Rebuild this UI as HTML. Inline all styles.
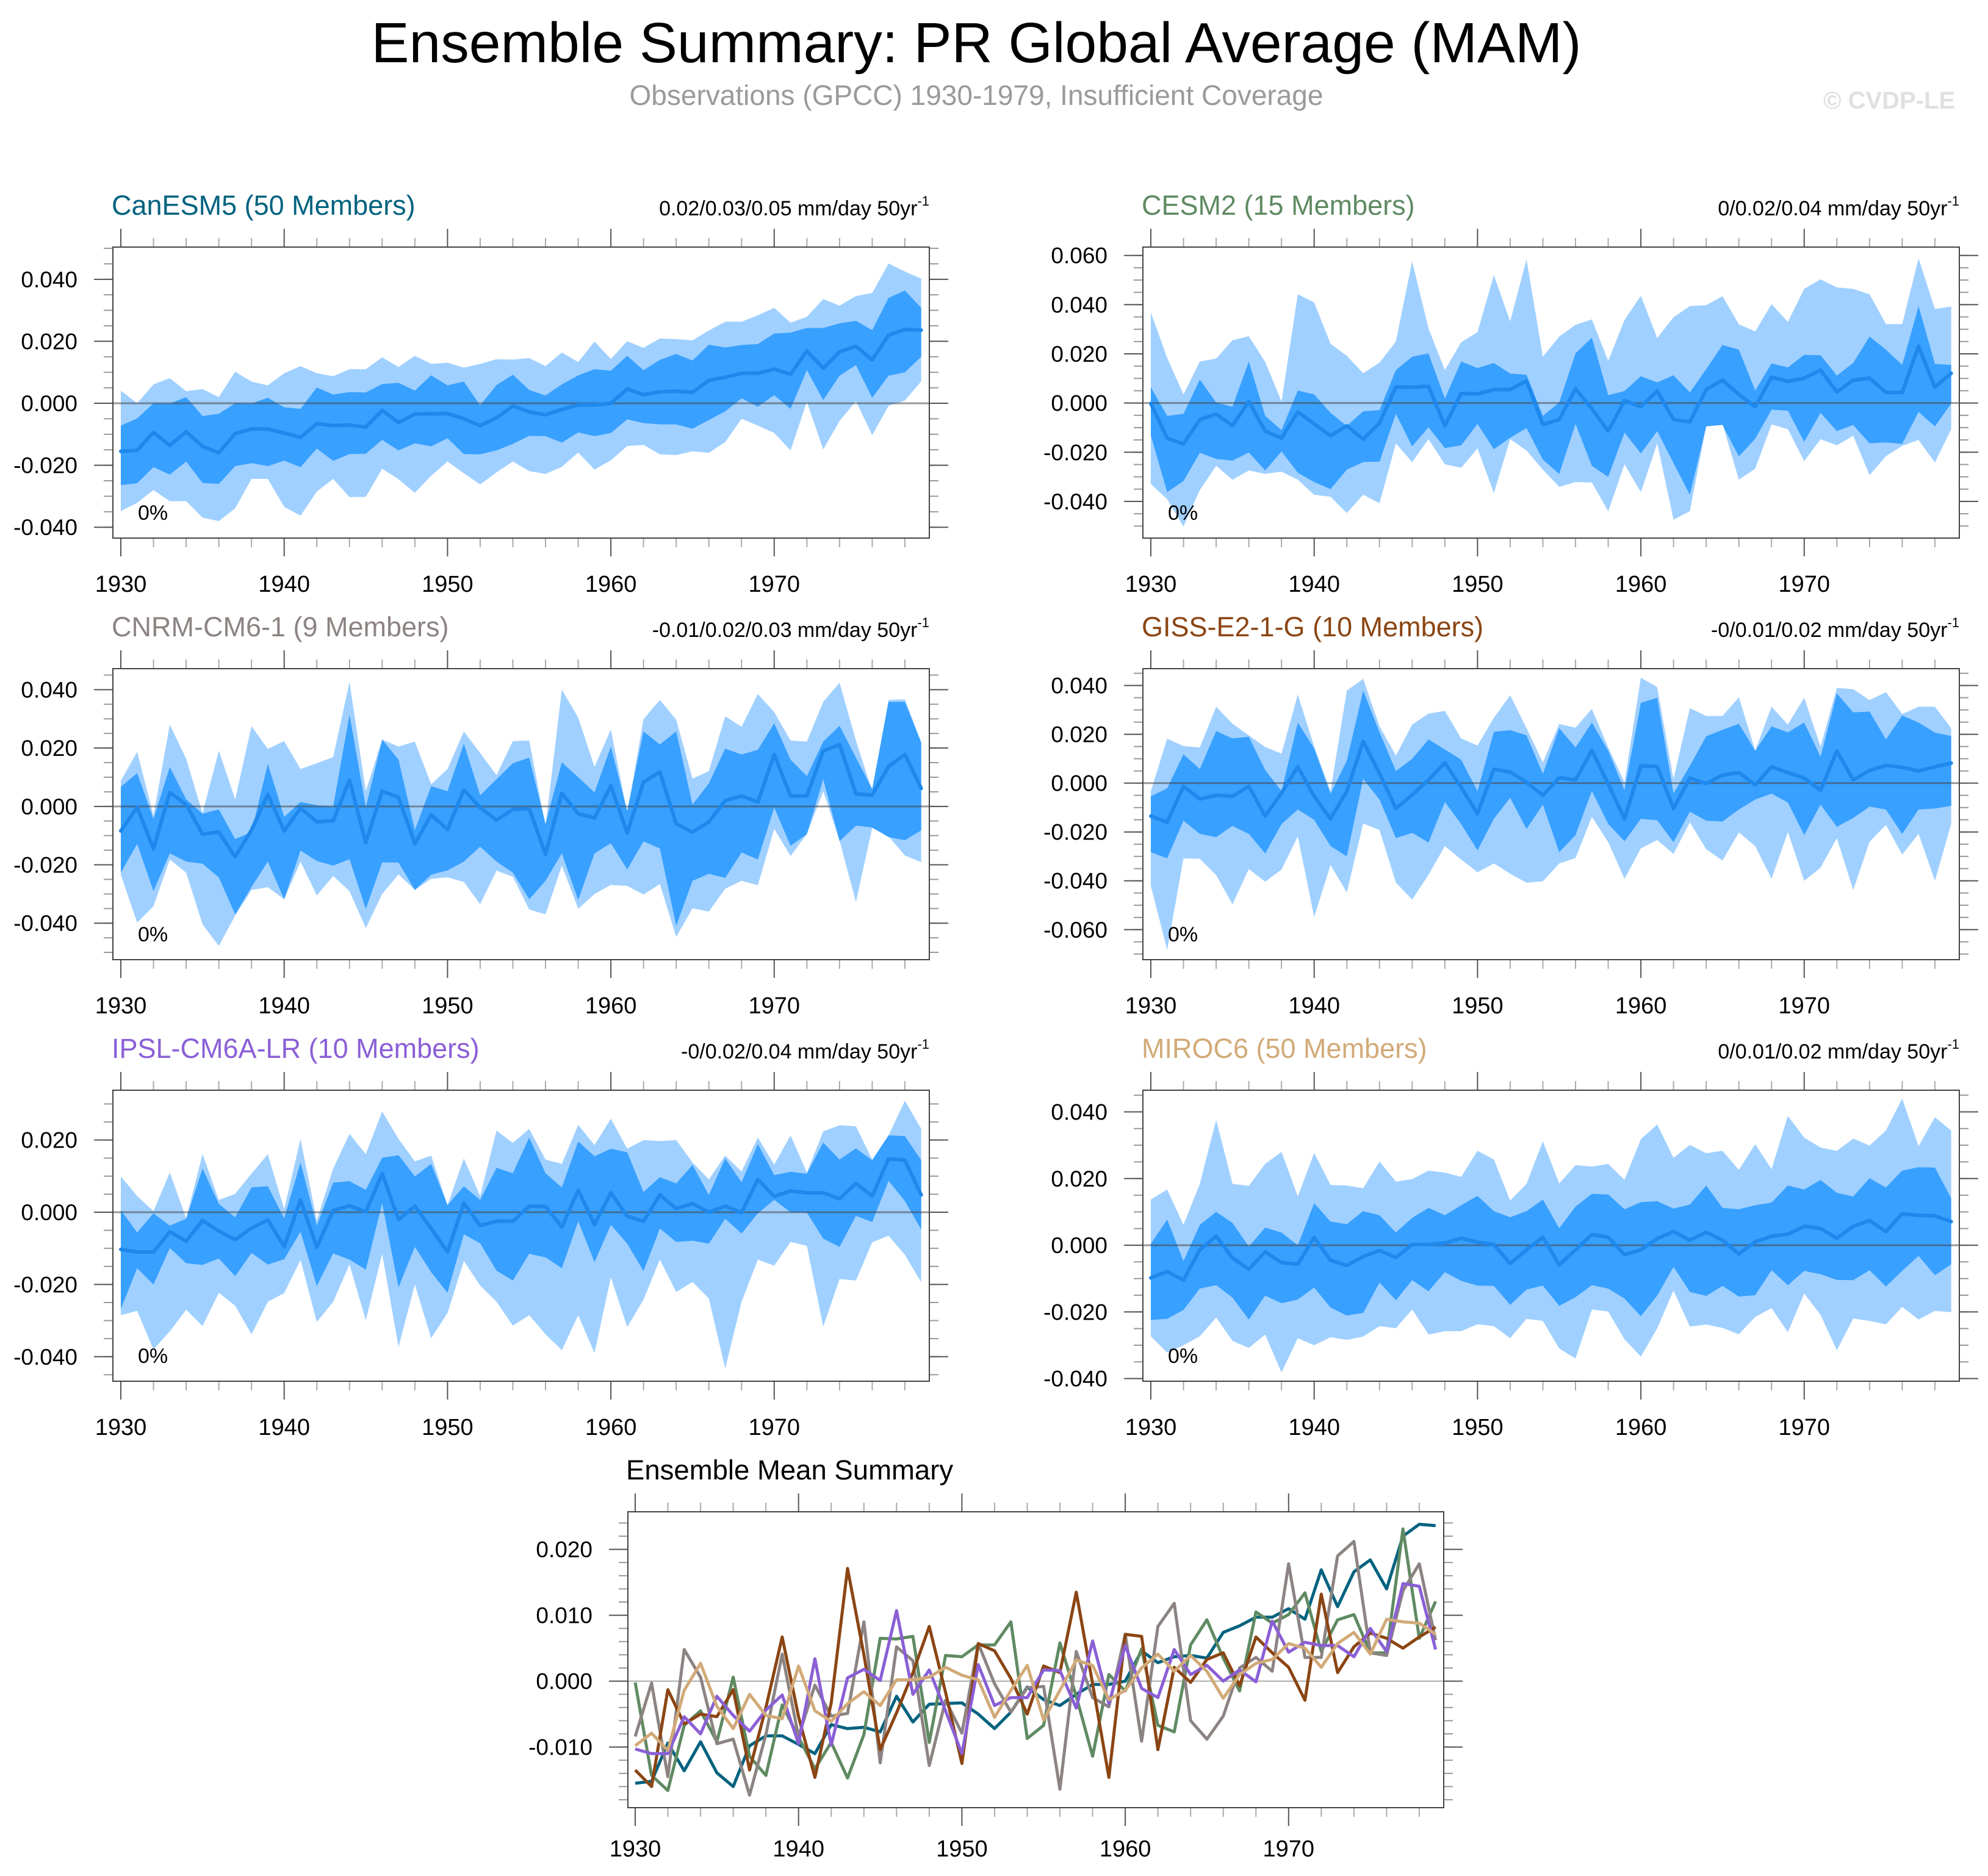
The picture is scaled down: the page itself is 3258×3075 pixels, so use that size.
<!DOCTYPE html>
<html><head><meta charset="utf-8"><title>Ensemble Summary: PR Global Average (MAM)</title>
<style>
html,body{margin:0;padding:0;background:#fff;}
svg{display:block;font-family:"Liberation Sans",Arial,sans-serif;}
</style></head>
<body>
<svg id="chart" width="3258" height="3075" viewBox="0 0 3258 3075" xmlns="http://www.w3.org/2000/svg">
<rect x="0" y="0" width="3258" height="3075" fill="#fff"/>
<text x="1600" y="102" font-size="93" text-anchor="middle" fill="#000">Ensemble Summary: PR Global Average (MAM)</text>
<text x="1600" y="172" font-size="46" text-anchor="middle" fill="#9a9a9a">Observations (GPCC) 1930-1979, Insufficient Coverage</text>
<text x="2988" y="178" font-size="40" font-weight="bold" fill="#e0e0e0">© CVDP-LE</text>
</svg>
<script>
// ===== data (values in units of 0.001 mm/day) =====
const years = [];
for (let y = 1930; y <= 1979; y++) years.push(y);

const canMean = [-15.5,-15.2,-9.4,-13.6,-9.2,-13.9,-16,-9.8,-8.3,-8.3,-9.6,-11,-6.6,-7.2,-7,-7.7,-2.3,-6.2,-3.5,-3.4,-3.3,-5,-7.2,-4.7,-0.9,-2.8,-3.7,-2,-0.5,-0.5,0,4.6,2.8,3.7,3.9,3.5,7.4,8.4,9.7,9.7,11,9.4,16.9,11.3,16.6,18.4,14,22,23.8,23.6];
const canDarkHi = [-7.2,-4.9,0,-0.1,2,-4.1,-3.4,0,-0.1,1.8,-1.3,-1.8,5.1,2.8,3.6,3.5,6.2,6.6,4.1,9,5.8,7,-0.7,5.9,9.2,4.3,2.5,6.1,9,11,10.5,15.3,10.7,14,15.9,13.8,18.9,18,18.8,19.1,22.5,22.8,24.3,24.3,25.8,26.6,23.6,34,36.4,30.8];
const canLightHi = [4.1,0,6.1,8.1,3.9,4.6,2,10.2,7,5.8,9.7,12,9.7,8.7,11,11,14.8,11.7,15.3,12.7,13.1,11.5,12.7,14.2,14.1,14.6,12,16.4,13.3,19.9,14.3,20,17.9,20.9,20.7,20.3,23.5,26.3,26.3,28.4,30.8,26,27.9,33.6,31.5,34.6,35.6,45.1,42.5,40.2];
const canDarkLo = [-26.4,-25.8,-20.6,-23,-18.8,-25.7,-26,-20.3,-19.3,-20.3,-18.5,-20.6,-14.6,-18.6,-16.4,-16.3,-11.8,-15.2,-12.9,-13.9,-11.3,-16.4,-16.5,-15.2,-13.1,-10.5,-10.6,-12.7,-9.4,-10.6,-9.6,-5.2,-6.4,-6.8,-6.8,-8.2,-5.4,-2.6,1.6,-1.1,2.6,-1.8,10.7,1,8.9,12.3,1.8,8.9,10,15];
const canLightLo = [-34.8,-32.1,-28,-31.6,-31.6,-36.9,-38,-33.9,-24.4,-24.4,-33.4,-36.3,-28.5,-24.4,-30.3,-30.2,-21.1,-24.5,-28.9,-23.4,-18.8,-22.6,-26.2,-22.3,-18.8,-21.9,-22.8,-20.5,-15.9,-21.4,-18.4,-13.8,-13.4,-16.5,-16.7,-15.5,-16,-12.5,-5,-7.2,-9.6,-15.2,0.5,-14.9,-5.7,0.7,-10.3,-0.8,0.9,7.1];

const cesMean = [-0.2,-14.3,-16.6,-6.7,-4.5,-9.2,0.6,-11.4,-14.3,-3.6,-8.5,-13.3,-9.3,-14.7,-8.1,6.5,6.4,6.8,-9.3,3.9,3.7,5.5,5.5,9,-8.7,-6.7,5.8,-2.3,-11.4,1,-1.5,4.9,-6.7,-7.7,5.5,9.3,3.5,-1.5,10.5,8.8,10.1,13.4,4.5,9.3,10.1,4.3,4.3,23.1,6.5,12.1];
const cesDarkHi = [6.4,-5.2,-4.4,9.5,0.2,-1.5,16.9,-5.2,-11,5.1,3.5,-4,-9.3,-3.4,-2.9,13.4,18.8,20.2,1.8,16.9,14.2,16.3,12,11.5,-5.2,0.2,20.2,26.6,3.2,4.9,10.9,8.4,11.3,4.3,13.8,23.6,21.7,5.1,16.1,14.5,19.6,19.4,11.2,16.3,27,21.7,15.5,39.4,15.9,15.5];
const cesLightHi = [36.9,18.3,3.5,16.9,18.1,25.5,27.2,16.7,0.6,44.2,40.9,24.1,19.2,12.1,16.4,25,57.6,30.3,13.4,24.7,28.8,52,33.2,58.4,18.8,27,31.8,34,17.1,33.8,43.6,26.4,34.9,39.4,39.8,43.4,32,29.1,40.2,33,46.4,50.3,47,46.4,44.2,32.1,32.1,58.8,38.2,39.3];
const cesDarkLo = [-13.1,-36.2,-31.7,-20.2,-22.7,-23.4,-20.1,-27.4,-19.7,-28.3,-32.1,-35,-27.1,-24,-23.8,-4.4,-17.6,-9.8,-18.3,-17.2,-8.5,-18.8,-14.1,-10.2,-23,-28.8,-8.5,-25.5,-30,-12,-20.5,-11.4,-24.4,-37.3,-9.5,-8.9,-21.7,-14.5,-2.7,-3.1,-15.8,-4,-11.4,-8.9,-16.4,-16,-16.6,-3.6,-9.5,-0.2];
const cesLightLo = [-32.9,-39.1,-50.2,-35.4,-25.5,-31.2,-27.4,-28.8,-27.9,-31.2,-37.3,-38.1,-44.7,-37.3,-40.7,-16.4,-24,-14.7,-24.9,-26.3,-18.4,-36.6,-14.7,-19.3,-27.1,-34.1,-32.1,-32.3,-44,-24.9,-36.2,-16.4,-47.4,-44,-9.3,-8.5,-31.2,-26.7,-8.7,-10.6,-23.6,-14.7,-17.2,-13.3,-29.3,-21.6,-17.4,-15,-24.2,-10.6];

const cnrMean = [-8.4,-0.3,-14.5,4.8,0.6,-9.5,-8.8,-17.3,-8.1,4.1,-8.4,-0.6,-5.3,-4.9,9,-12.4,5.2,3.1,-12.8,-2.9,-7.9,5.7,-0.4,-4.7,-1,-0.8,-16.4,4.5,-2.5,-3.9,7.1,-9.1,8.3,11.8,-6,-8.8,-5.3,2,3.6,1.5,17.8,3.6,3.6,19,21.2,4.3,3.9,13.7,17.8,6.2];
const cnrDarkHi = [6.7,11.4,-4.3,13.5,2.4,-2.5,-1,-11.2,-8.8,14.6,-3.6,1.5,0.4,-0.1,31.5,-0.3,22.9,16,-8.1,6.9,5.2,21.5,3.8,9.3,14.8,16.7,-6,15.1,10,4.8,20.5,-1.5,25.7,21.2,25.7,0.6,7.9,19.8,17.8,19.4,28.5,16,10.4,22.2,27.6,16.7,6,35.8,35.8,21.9];
const cnrLightHi = [8.8,18.7,-3.1,28,16.3,-2.4,19.1,2.4,27.5,19.7,22.4,12.8,14.8,16.9,42.6,5.2,22.9,20.5,22.2,7.6,12.8,25.7,18.3,10.7,22.4,22.6,-6.7,40,30.4,13.5,26.4,-2.4,29.9,36.5,29.7,9.5,12.1,30.9,27.3,38.5,32.3,22.6,22.2,35.8,42.4,22.6,5.2,36.5,36.7,21.9];
const cnrDarkLo = [-22.7,-12.8,-29,-16.1,-18.9,-19.6,-24.3,-37,-27.6,-18.9,-31.8,-15.1,-18.7,-20.3,-18.1,-35.1,-19.2,-19.2,-28.6,-23.4,-21.9,-18.9,-13.8,-18.9,-22.7,-31.8,-25.5,-16.1,-32.1,-16.1,-12.6,-21.6,-12,-14.4,-40.9,-25.5,-23.1,-24.5,-15.8,-18.2,-0.4,-13.5,-9.5,9.3,-11.9,-6.6,-7.2,-10.5,-11.6,-8.2];
const cnrLightLo = [-23.4,-39.8,-34.2,-18.2,-22.7,-40.4,-47.8,-37.4,-28.6,-27.7,-31.8,-18.9,-30.5,-23.8,-29,-41.7,-30,-23.3,-28.6,-24.8,-24.3,-25.9,-33.5,-22,-24.1,-35.3,-37,-20.3,-35.1,-30,-26.9,-27.2,-30.2,-26.6,-44.7,-34.9,-36,-28.2,-25.5,-27,-7.7,-17,-9.5,5.2,-11.7,-32.8,-7.4,-10.3,-16.8,-19.1];

const gisMean = [-13.5,-16,-1.3,-6.5,-5,-5.4,-1.3,-13.5,-4,6.7,-5.4,-14.6,-3.3,17.1,4,-10.4,-4.8,1.3,8.3,-1.7,-12.5,5.7,4.6,0.4,-5,2.3,1.3,13.5,-0.4,-14.6,7.1,6.8,-10.4,2.1,-0.2,3.3,4.3,-0.7,6.7,4.3,2.1,-2.9,13.2,1.3,5.2,7.3,6.5,5,6.7,8.2];
const gisDarkHi = [-5.4,-2.1,11.8,5.8,21.3,18.3,19,5.4,-3.3,24.8,14.2,-4.3,9.2,37.9,20.8,5,10,17.9,13.8,9.6,-3.3,21,21.7,19.6,3.8,22.5,14.6,24.8,13.3,-2.9,32.9,35,-4.2,7.1,19.2,21.8,24.3,13.3,23.2,20.8,24.8,10.8,36.7,29,29.3,17.9,27.7,24.8,20.7,19.3];
const gisLightHi = [-3.3,18.2,15.2,14.6,31.3,24.3,19.6,14.8,12.1,36.3,15,-3.3,37.9,42.7,23.3,11.3,24,28.5,29.6,18.3,15.4,26.7,36,22.5,8.5,24.2,22.7,30.4,14.6,0.4,43.2,39.3,1.7,30.7,27.5,27.5,35.2,13.3,31.3,24,35,15,39,38.5,34,37.3,28.3,31.3,31.3,22.5];
const gisDarkLo = [-28.3,-30.8,-15.4,-20.8,-22.1,-17.5,-20.8,-28.8,-16.8,-10.8,-15,-25.8,-30,1.7,-6.7,-22.5,-20.4,-24.3,-7.7,-16.8,-27.5,-14.6,-6,-18.8,-8.8,-28.3,-21.3,-3.2,-16.7,-23.8,-14.6,-15.2,-24.2,-11.7,-15.4,-15.7,-10.8,-6.7,-4.3,-7.9,-21.3,-8.8,-17.9,-14.3,-9.6,-10.8,-20.8,-10.8,-10.4,-9.3];
const gisLightLo = [-42.1,-68.3,-30.8,-31,-37.7,-49.6,-35.2,-40.4,-35.4,-21.8,-54.8,-33.5,-44.8,-16.5,-19.2,-40.7,-47.7,-37.5,-25.8,-31.3,-36.5,-32.9,-37.1,-40.8,-40.2,-32.9,-30.7,-13.8,-24.2,-39.2,-26.7,-23.3,-29,-16,-27.1,-31.7,-20.2,-25.8,-39.2,-20,-40,-34.6,-22.5,-43.8,-24,-17.1,-29.3,-20.7,-40,-16.7];

const ipsMean = [-10.3,-11,-11,-5.4,-8,-2.3,-5.2,-7.6,-4.4,-2.1,-9.5,3.4,-9.7,0.5,1.8,0.1,10.7,-2,1.7,-4.5,-11,2.5,-3.7,-2.5,-2.5,1.7,1.6,-4.1,6.1,-3.4,5.4,-1.1,-2.5,4.8,1,2.4,0,1.7,-0.1,9.1,4.4,5.9,5.4,5.4,3.7,8,4.5,14.8,14.4,4.8];
const ipsDarkHi = [0.6,-5.6,-0.3,-3.7,-1.8,12.1,2.3,-1.4,6.9,7.2,-1.7,13.8,-3.7,8.2,8.6,6.2,15.1,15.8,9.9,13.4,2,7.2,3.4,12.3,10.8,20.7,10.8,6.9,19.6,15.5,17.6,16.6,5.6,9.7,8,13.1,4.8,14.9,8.3,18.9,10.3,11.2,10.7,19.3,14.6,17.7,14.4,21.3,21.1,14.4];
const ipsLightHi = [9.9,4.5,0.3,11,-1.7,16.1,3.4,5.1,10.7,16.1,0.8,20.3,-2.3,12.1,21.7,16.1,27.9,20.3,14.1,15.7,2,14.9,4.5,22.6,19.2,23.1,14.6,13.4,24.2,18.6,25.9,17.6,20,19.7,20,13.8,9.1,15.7,11.3,20.7,13.2,21.3,11,22.4,24.1,23.8,14.6,21.3,30.9,23.1];
const ipsDarkLo = [-26.8,-15.5,-20,-9.9,-14.1,-14.6,-12.8,-17.7,-11.3,-14.5,-13,-5.4,-20.4,-11.4,-13.1,-15.9,2.5,-20.8,-9.6,-16.6,-22.3,-6.1,-8.6,-16.2,-18.9,-11.5,-12.5,-15.5,-2.5,-13.8,-3.5,-8.7,-16.3,-4.5,-8.2,-7.9,-8.7,-1.8,-5.9,-0.3,3.4,0,-0.1,-7.3,-9.6,-1,-2.7,8.7,3.1,-4.8];
const ipsLightLo = [-28.5,-27.3,-38,-33,-27,-31.5,-22.3,-25.9,-33.8,-24.8,-22.4,-13.2,-30.4,-24.8,-14.5,-29.9,-11.5,-37.3,-20,-34.9,-27.9,-13.5,-20.3,-24.8,-31.4,-28.5,-33.8,-38.2,-28.5,-39,-18,-31.8,-24.2,-13.1,-22.1,-19.3,-23.9,-43.3,-24.8,-13.1,-14.8,-8.2,-9.3,-31.7,-18.5,-18.9,-8.3,-6.5,-11.8,-19.4];

const mirMean = [-9.8,-7.9,-10.5,-1.4,2.7,-3.8,-7.2,-2,-5.2,-5.7,2.3,-4.5,-6.1,-3.4,-1.6,-3.7,0.2,0.2,0.6,2.1,0.9,0.2,-5.5,-1.4,2.4,-5.9,-1.4,3.2,2.4,-2.8,-1.4,2,4.1,1.5,3.9,1.5,-2.6,1,2.7,3.3,5.7,5,2.1,5.7,7.4,4.1,9.4,9,8.8,7.1];
const mirDarkHi = [0.4,7.7,-4.8,6.1,10,6.7,-0.4,5.3,3.8,0,12.6,7.1,6.3,10.2,9,3.8,8.2,11.2,9,12,14.8,10.2,8.4,10.2,13.7,5.1,11.6,15.4,15.2,10.8,12.9,13.2,11,12.2,17.9,11.2,10.8,12,12.8,17.9,16.7,19.6,15.7,14.6,20.1,17.3,22.4,23.4,23.3,14.1];
const mirLightHi = [13.7,16.7,6.1,18.4,37.6,18.4,17.8,24.4,28,14.6,27.7,18.1,17.9,17.1,25.1,19.1,19.8,22.4,21.8,20.5,28.3,25.7,13.4,18.4,31.2,18.5,24,23.6,24.4,19.6,31.8,36.2,26.2,30.1,27.6,28.3,22.6,30.3,22.8,38.8,32.3,29.3,28.3,32,29.9,34.4,44,29.7,38.4,34.4];
const mirDarkLo = [-22.4,-22.1,-19.4,-13,-12,-15.7,-22.3,-15.1,-17.4,-16.3,-12.7,-18.7,-21.1,-20.3,-11.2,-16.5,-10.5,-13.8,-8.1,-10.7,-12.1,-12.2,-17.9,-13.3,-12.1,-18.2,-15.6,-12,-13,-16,-21.3,-15.1,-6.5,-14,-15.2,-12.2,-15.4,-15,-7.5,-12,-7.7,-8.7,-10.4,-10.5,-7.5,-12.4,-7.7,-3.2,-9,-5.7];
const mirLightLo = [-27.3,-32.2,-30,-27.3,-21.7,-28.7,-30.8,-26.8,-38.2,-27.9,-30,-27.6,-28.4,-27.4,-24.3,-24.9,-19.3,-26.8,-25.8,-25.8,-23.7,-24.3,-27.9,-22.1,-22.7,-31,-34,-19.3,-19.9,-28.2,-33.4,-24.9,-13.6,-24.4,-23.8,-24.8,-26.7,-21.5,-18.9,-26.1,-14.5,-20.9,-31.5,-22,-22.7,-23.7,-18.5,-22.3,-19.7,-20.1];

// tick label arrays
const yTicksCan = [-0.04,-0.02,0,0.02,0.04];
const yTicksCes = [-0.04,-0.02,0,0.02,0.04,0.06];
const yTicksCnr = [-0.04,-0.02,0,0.02,0.04];
const yTicksGis = [-0.06,-0.04,-0.02,0,0.02,0.04];
const yTicksIps = [-0.04,-0.02,0,0.02];
const yTicksMir = [-0.04,-0.02,0,0.02,0.04];
const yTicksSum = [-0.01,0,0.01,0.02];
const xTickLabels = [1930,1940,1950,1960,1970];
const modelNames = ["CanESM5 (50 Members)","CESM2 (15 Members)","CNRM-CM6-1 (9 Members)","GISS-E2-1-G (10 Members)","IPSL-CM6A-LR (10 Members)","MIROC6 (50 Members)"];
const trendLabels = ["0.02/0.03/0.05 mm/day 50yr","0/0.02/0.04 mm/day 50yr","-0.01/0.02/0.03 mm/day 50yr","-0/0.01/0.02 mm/day 50yr","-0/0.02/0.04 mm/day 50yr","0/0.01/0.02 mm/day 50yr"];
const pctLabels = ["0%","0%","0%","0%","0%","0%"];

// ===== layout (positions / styles) =====
const SVGNS = "http://www.w3.org/2000/svg";
const svg = document.getElementById("chart");
const modelColors = ["#00627f","#5f8a62","#8c8482","#8b4513","#8a5fd6","#d2aa78"];
const modelKeys = ["canesm5","cesm2","cnrm-cm6-1","giss-e2-1-g","ipsl-cm6a-lr","miroc6"];
const panels = [
  {x0:185, y0:405, top:50.4, bot:-43.5, ticks:yTicksCan, minor:5, d:[canLightHi,canDarkHi,canMean,canDarkLo,canLightLo]},
  {x0:1873,y0:405, top:63.4, bot:-54.9, ticks:yTicksCes, minor:5, d:[cesLightHi,cesDarkHi,cesMean,cesDarkLo,cesLightLo]},
  {x0:185, y0:1096,top:47.2, bot:-52.5, ticks:yTicksCnr, minor:5, d:[cnrLightHi,cnrDarkHi,cnrMean,cnrDarkLo,cnrLightLo]},
  {x0:1873,y0:1096,top:46.9, bot:-72.3, ticks:yTicksGis, minor:5, d:[gisLightHi,gisDarkHi,gisMean,gisDarkLo,gisLightLo]},
  {x0:185, y0:1787,top:33.8, bot:-46.8, ticks:yTicksIps, minor:5, d:[ipsLightHi,ipsDarkHi,ipsMean,ipsDarkLo,ipsLightLo]},
  {x0:1873,y0:1787,top:46.5, bot:-40.8, ticks:yTicksMir, minor:5, d:[mirLightHi,mirDarkHi,mirMean,mirDarkLo,mirLightLo]}
];
const W = 1338, H = 477;

function el(tag, attrs, parent) {
  const e = document.createElementNS(SVGNS, tag);
  for (const k in attrs) e.setAttribute(k, attrs[k]);
  (parent || svg).appendChild(e);
  return e;
}
function fmt(v) { return (v < 0 ? "-" : "") + Math.abs(v).toFixed(3); }

function makeAxes(x0, y0, w, h, yTop, yBot, firstYearX) {
  const xs = yr => firstYearX + (yr - 1930) * 26.77;
  const ys = v => y0 + (yTop - v) / (yTop - yBot) * h;
  return {xs, ys};
}

function drawFrameAndTicks(g, x0, y0, w, h, ax, ticks, minorStep, yTop, yBot) {
  for (let yr = 1930; yr <= 1979; yr += 2) {
    const major = (yr % 10 === 0);
    const len = major ? 30 : 15;
    const t1 = el("line", {x1:ax.xs(yr), x2:ax.xs(yr), y1:y0, y2:y0 - len, stroke: major ? "#555" : "#aaa", "stroke-width":2}, g);
    
    
    const t2 = el("line", {x1:ax.xs(yr), x2:ax.xs(yr), y1:y0 + h, y2:y0 + h + len, stroke: major ? "#555" : "#aaa", "stroke-width":2}, g);
    
    
  }
  const lo = Math.ceil(yBot / minorStep) * minorStep;
  for (let v = lo; v <= yTop + 1e-9; v += minorStep) {
    const yy = ax.ys(v);
    const m1 = el("line", {x1:x0, x2:x0 - 15, y1:yy, y2:yy, stroke:"#999", "stroke-width":2}, g);
    
    
    const m2 = el("line", {x1:x0 + w, x2:x0 + w + 15, y1:yy, y2:yy, stroke:"#999", "stroke-width":2}, g);
    
    
  }
  ticks.forEach(tv => {
    const yy = ax.ys(tv * 1000);
    const a = el("line", {x1:x0, x2:x0 - 31, y1:yy, y2:yy, stroke:"#555", "stroke-width":2}, g);
    
    
    const b = el("line", {x1:x0 + w, x2:x0 + w + 31, y1:yy, y2:yy, stroke:"#555", "stroke-width":2}, g);
    
    
    const t = el("text", {x:x0 - 58, y:yy + 13, "font-size":37, "text-anchor":"end", fill:"#000"}, g);
    
    
    t.textContent = fmt(tv);
  });
  xTickLabels.forEach(yr => {
    const t = el("text", {x:ax.xs(yr), y:y0 + 565, "font-size":38, "text-anchor":"middle", fill:"#000"}, g);
    
    
    t.textContent = yr;
  });
  const fr = el("rect", {x:x0, y:y0, width:w, height:h, fill:"none", stroke:"#444", "stroke-width":2}, g);
  
  
}

function linePts(arr, ax) { return arr.map((v, i) => ax.xs(years[i]).toFixed(1) + "," + ax.ys(v).toFixed(1)).join(" "); }
function bandPts(hi, lo, ax) {
  const up = hi.map((v, i) => ax.xs(years[i]).toFixed(1) + "," + ax.ys(v).toFixed(1));
  const dn = lo.map((v, i) => ax.xs(years[i]).toFixed(1) + "," + ax.ys(v).toFixed(1)).reverse();
  return up.concat(dn).join(" ");
}

panels.forEach((p, k) => {
  const g = el("g", {});
  
  
  const ax = makeAxes(p.x0, p.y0, W, H, p.top, p.bot, p.x0 + 13);
  const light = el("polygon", {points:bandPts(p.d[0], p.d[4], ax), fill:"#a0d0ff"}, g);
  
  
  const dark = el("polygon", {points:bandPts(p.d[1], p.d[3], ax), fill:"#38a0ff"}, g);
  
  
  const z = el("line", {x1:p.x0, x2:p.x0 + W, y1:ax.ys(0), y2:ax.ys(0), stroke:"rgba(70,70,70,0.55)", "stroke-width":3}, g);
  
  
  const m = el("polyline", {points:linePts(p.d[2], ax), fill:"none", stroke:"#1e88ec", "stroke-width":6, "stroke-linejoin":"round", "stroke-linecap":"round"}, g);
  
  
  drawFrameAndTicks(g, p.x0, p.y0, W, H, ax, p.ticks, p.minor, p.top, p.bot);
  const pc = el("text", {x:p.x0 + 41, y:p.y0 + 447, "font-size":34, fill:"#000"}, g);
  
  
  pc.textContent = pctLabels[k];
  const tt = el("text", {x:p.x0 - 2, y:p.y0 - 53, "font-size":45, fill:modelColors[k]}, g);
  
  
  tt.textContent = modelNames[k];
  const tr = el("text", {x:p.x0 + W, y:p.y0 - 52, "font-size":34, "text-anchor":"end", fill:"#000"}, g);
  
  
  tr.textContent = trendLabels[k];
  const sup = el("tspan", {"font-size":22, dy:-16}, tr);
  
  
  sup.textContent = "-1";
});

// ===== Ensemble mean summary =====
(function () {
  const x0 = 1029, y0 = 2478, w = 1337, h = 485, top = 25.7, bot = -19.2;
  const g = el("g", {});
  
  
  const ax = makeAxes(x0, y0, w, h, top, bot, 1041);
  const z = el("line", {x1:x0, x2:x0 + w, y1:ax.ys(0), y2:ax.ys(0), stroke:"#aaa", "stroke-width":2}, g);
  
  
  panels.forEach((p, k) => {
    const l = el("polyline", {points:linePts(p.d[2], ax), fill:"none", stroke:modelColors[k], "stroke-width":5, "stroke-linejoin":"round"}, g);
    
    
  });
  drawFrameAndTicks(g, x0, y0, w, h, ax, yTicksSum, 2, top, bot);
  const t = el("text", {x:1026, y:2425, "font-size":45.5, fill:"#000"}, g);
  
  
  t.textContent = "Ensemble Mean Summary";
})();
</script>
</body></html>
